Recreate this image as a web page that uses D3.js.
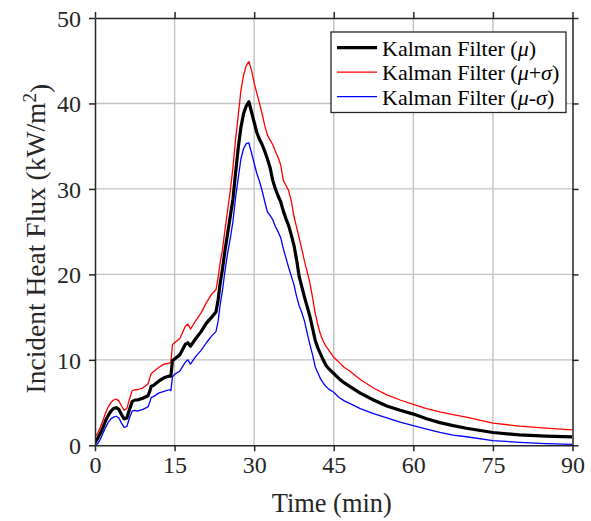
<!DOCTYPE html>
<html>
<head>
<meta charset="utf-8">
<script src="https://cdn.jsdelivr.net/npm/d3@7"></script>
<style>
  html, body { margin: 0; padding: 0; background: #fff; }
  svg { display: block; }
</style>
</head>
<body>
<svg id="chart" width="591" height="521"></svg>
<script>
// Time in minutes (shared by all three series)
const time = [
  0, 0.5, 1, 1.5, 2, 2.5, 3, 3.5, 4, 4.5, 5, 5.5, 6, 6.5, 7, 7.5, 8, 9, 10, 10.3,
  10.6, 11, 12, 13, 14, 14.3, 14.6, 15, 16, 17, 17.5, 18, 19, 20, 21, 22, 22.8, 23.2,
  23.6, 24, 24.5, 25, 25.5, 26, 26.5, 27, 27.5, 28, 28.5, 29, 29.5, 30, 30.5, 31,
  31.5, 32, 32.5, 33, 33.5, 34, 34.5, 35, 35.5, 36, 36.5, 37, 37.5, 38, 38.5, 39,
  39.5, 40, 40.5, 41, 41.5, 42, 42.5, 43, 43.5, 44, 45, 46, 47, 48, 50, 52.5, 55,
  57.5, 60, 62.5, 65, 67.5, 70, 75, 80, 85, 90
];

// Kalman filter mean estimate (kW/m^2)
const meanFlux = [
  0.3, 0.8, 1.4, 2.1, 2.9, 3.5, 4.0, 4.3, 4.4, 4.2, 3.6, 3.1, 3.2, 4.2, 5.1, 5.3, 5.3, 5.5, 5.8, 6.3,
  6.9, 7.0, 7.5, 7.9, 8.1, 8.1, 9.9, 10.1, 10.6, 11.8, 12.0, 11.6, 12.5, 13.3, 14.3, 15.0, 15.6, 17.0,
  19.0, 20.5, 22.8, 24.8, 26.8, 28.8, 31.9, 34.8, 37.2, 38.8, 39.7, 40.2, 39.0, 37.8, 36.6, 35.8,
  35.2, 34.4, 33.5, 32.5, 31.0, 30.0, 29.2, 28.5, 27.4, 26.5, 25.7, 24.6, 23.4, 21.7, 19.7, 18.5,
  17.3, 16.2, 15.1, 13.7, 12.3, 11.4, 10.7, 10.0, 9.4, 9.0, 8.4, 7.8, 7.3, 6.9, 6.1, 5.3, 4.6,
  4.1, 3.65, 3.1, 2.65, 2.3, 2.0, 1.5, 1.22, 1.08, 0.98
];

// Mean plus one standard deviation
const upperFlux = [
  1.0, 1.4, 2.1, 2.9, 3.8, 4.5, 5.0, 5.3, 5.4, 5.2, 4.6, 4.1, 4.3, 5.4, 6.4, 6.5, 6.5, 6.7, 7.2, 7.8,
  8.4, 8.6, 9.1, 9.5, 9.6, 9.7, 11.8, 12.0, 12.5, 13.9, 14.2, 13.6, 14.6, 15.5, 16.7, 17.7, 18.2, 19.6,
  21.4, 22.8, 25.2, 27.5, 29.8, 32.5, 35.8, 38.6, 41.5, 43.3, 44.4, 44.9, 43.9, 42.4, 41.2, 40.0,
  38.8, 37.4, 36.3, 35.7, 35.2, 34.4, 33.7, 32.8, 31.0, 30.4, 29.8, 28.6, 26.8, 25.5, 24.2, 22.9,
  21.5, 20.3, 19.0, 17.3, 15.5, 14.1, 13.0, 12.2, 11.6, 11.2, 10.3, 9.7, 9.1, 8.7, 7.7, 6.7, 5.9,
  5.3, 4.8, 4.3, 3.9, 3.6, 3.3, 2.6, 2.25, 2.0, 1.8
];

// Mean minus one standard deviation
const lowerFlux = [
  0.0, 0.2, 0.7, 1.4, 2.1, 2.7, 3.1, 3.3, 3.4, 3.2, 2.6, 2.1, 2.2, 3.2, 4.0, 4.1, 4.0, 4.2, 4.5, 5.0,
  5.6, 5.7, 6.1, 6.3, 6.5, 6.4, 8.0, 8.3, 8.7, 9.7, 10.0, 9.5, 10.4, 11.1, 12.0, 12.8, 13.3, 14.5,
  16.5, 18.0, 20.4, 22.5, 24.2, 26.2, 29.0, 31.3, 33.5, 34.7, 35.3, 35.4, 34.2, 33.0, 31.8, 30.9,
  29.8, 28.5, 27.3, 26.9, 26.4, 25.6, 25.0, 24.3, 23.0, 21.9, 20.8, 19.8, 18.8, 17.4, 16.3, 15.5,
  14.5, 13.1, 11.8, 10.6, 9.2, 8.5, 7.8, 7.3, 6.9, 6.6, 6.2, 5.6, 5.2, 4.9, 4.3, 3.7, 3.2,
  2.7, 2.3, 1.9, 1.5, 1.2, 1.0, 0.55, 0.35, 0.2, 0.1
];

const xTicks = [0, 15, 30, 45, 60, 75, 90];
const yTicks = [0, 10, 20, 30, 40, 50];
const seriesNames = ["Kalman Filter (\u03bc)", "Kalman Filter (\u03bc+\u03c3)", "Kalman Filter (\u03bc-\u03c3)"];

const FONT = "'Liberation Serif', 'Times New Roman', Times, serif";

const margin = { left: 95, right: 18.5, top: 18, bottom: 75.7 };
const W = 591, H = 521;
const plotW = W - margin.left - margin.right;
const plotH = H - margin.top - margin.bottom;

const svg = d3.select("#chart");
const g = svg.append("g").attr("transform", `translate(${margin.left},${margin.top})`);

const x = d3.scaleLinear().domain([0, 90]).range([0, plotW]);
const y = d3.scaleLinear().domain([0, 50]).range([plotH, 0]);

const axisColor = "#262626";
const gridColor = "#c2c2c2";

// grid
g.append("g").selectAll("line").data(xTicks.slice(1, -1)).join("line")
  .attr("x1", d => x(d)).attr("x2", d => x(d)).attr("y1", 0).attr("y2", plotH)
  .attr("stroke", gridColor).attr("stroke-width", 1.4);
g.append("g").selectAll("line").data(yTicks.slice(1, -1)).join("line")
  .attr("y1", d => y(d)).attr("y2", d => y(d)).attr("x1", 0).attr("x2", plotW)
  .attr("stroke", gridColor).attr("stroke-width", 1.4);

// clip
svg.append("defs").append("clipPath").attr("id", "plotClip")
  .append("rect").attr("x", 0).attr("y", 0).attr("width", plotW).attr("height", plotH);

const series = [
  { values: upperFlux, color: "#ff0000", width: 1.3 },
  { values: lowerFlux, color: "#0000ff", width: 1.3 },
  { values: meanFlux, color: "#000000", width: 3.2 }
];

const line = d3.line().x(d => x(d[0])).y(d => y(d[1]));
const lines = g.append("g").attr("clip-path", "url(#plotClip)");
series.forEach(s => {
  lines.append("path")
    .datum(time.map((t, i) => [t, s.values[i]]))
    .attr("fill", "none")
    .attr("stroke", s.color)
    .attr("stroke-width", s.width)
    .attr("stroke-linejoin", "round")
    .attr("d", line);
});

// axes (box with outward ticks on all sides)
function styleAxis(sel) {
  sel.attr("font-family", null).attr("font-size", null);
  sel.select(".domain").attr("stroke", axisColor).attr("stroke-width", 1.5);
  sel.selectAll(".tick line").attr("stroke", axisColor).attr("stroke-width", 1.5);
  sel.selectAll(".tick text")
    .style("font-family", FONT).style("font-size", "24px").attr("fill", axisColor);
}

g.append("g").attr("transform", `translate(0,${plotH})`)
  .call(d3.axisBottom(x).tickValues(xTicks).tickSizeInner(6).tickSizeOuter(0).tickPadding(5))
  .call(styleAxis)
  .call(a => a.selectAll(".tick text").attr("dy", "0.71em"));

g.append("g")
  .call(d3.axisLeft(y).tickValues(yTicks).tickSizeInner(6).tickSizeOuter(0).tickPadding(8))
  .call(styleAxis)
  .call(a => a.selectAll(".tick text").attr("dy", "0.34em"));

g.append("g")
  .call(d3.axisTop(x).tickValues(xTicks).tickSizeInner(6).tickSizeOuter(0).tickFormat(""))
  .call(styleAxis);

g.append("g").attr("transform", `translate(${plotW},0)`)
  .call(d3.axisRight(y).tickValues(yTicks).tickSizeInner(6).tickSizeOuter(0).tickFormat(""))
  .call(styleAxis);

// axis labels
svg.append("text")
  .attr("x", margin.left + plotW / 2 - 2).attr("y", 512)
  .attr("text-anchor", "middle")
  .style("font-family", FONT).style("font-size", "26.4px").attr("fill", axisColor)
  .text("Time (min)");

const yl = svg.append("text")
  .attr("transform", `translate(45,${margin.top + plotH / 2 + 7}) rotate(-90)`)
  .attr("text-anchor", "middle")
  .style("font-family", FONT).style("font-size", "27.5px").attr("fill", axisColor);
yl.append("tspan").text("Incident Heat Flux (kW/m");
yl.append("tspan").attr("dy", "-0.5em").style("font-size", "19px").text("2");
yl.append("tspan").attr("dy", "0.5em").text(")");

// legend
const lg = svg.append("g").attr("transform", "translate(331,32)");
lg.append("rect").attr("width", 235).attr("height", 80.5)
  .attr("fill", "#fff").attr("stroke", axisColor).attr("stroke-width", 1.3);

const legendItems = [
  { color: "#000000", width: 3.2, name: seriesNames[0] },
  { color: "#ff0000", width: 1.3, name: seriesNames[1] },
  { color: "#0000ff", width: 1.3, name: seriesNames[2] }
];
legendItems.forEach((it, i) => {
  const cy = 15.7 + i * 24.5;
  lg.append("line").attr("x1", 6).attr("x2", 46).attr("y1", cy).attr("y2", cy)
    .attr("stroke", it.color).attr("stroke-width", it.width);
  const t = lg.append("text").attr("x", 51).attr("y", cy + 8)
    .style("font-family", FONT).style("font-size", "22px").attr("fill", "#000");
  // Greek symbols in italic, the rest upright
  const parts = it.name.split(/([\u03bc\u03c3])/);
  parts.forEach(p => {
    if (!p) return;
    const ts = t.append("tspan").text(p);
    if (p === "\u03bc" || p === "\u03c3") ts.style("font-style", "italic");
  });
});
</script>
</body>
</html>
